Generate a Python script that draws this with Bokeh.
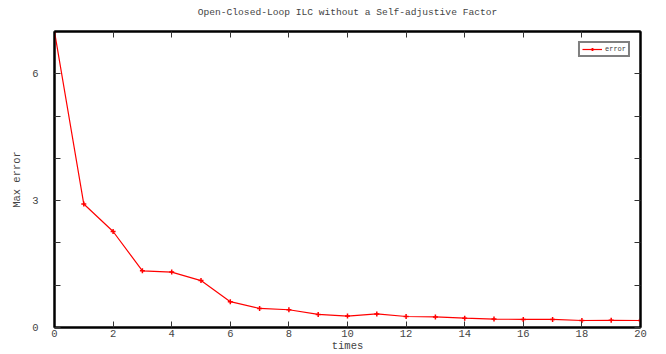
from bokeh.plotting import figure
from bokeh.models import Range1d, LinearAxis, FixedTicker, Legend, LegendItem
from bokeh.embed import file_html
from bokeh.resources import INLINE

times = list(range(21))
max_error = [7.0, 2.92, 2.27, 1.34, 1.31, 1.11, 0.61, 0.45, 0.42, 0.31, 0.27,
             0.32, 0.26, 0.25, 0.22, 0.20, 0.19, 0.19, 0.165, 0.17, 0.165]
x_ticks = [0, 2, 4, 6, 8, 10, 12, 14, 16, 18, 20]
y_major = [0, 3, 6]
y_minor = [1, 2, 4, 5]
title_text = "Open-Closed-Loop ILC without a Self-adjustive Factor"

FONT = "Liberation Mono"
GRAY = "#444444"
TICK = "#333333"

p = figure(width=666, height=354, output_backend="svg", toolbar_location=None,
           x_range=Range1d(0, 20), y_range=Range1d(0, 7),
           min_border_left=54, min_border_right=26, min_border_top=31, min_border_bottom=27)
p.grid.visible = False
p.outline_line_color = "black"
p.outline_line_width = 2

p.xaxis.ticker = FixedTicker(ticks=x_ticks)
p.yaxis.ticker = FixedTicker(ticks=y_major, minor_ticks=y_minor)

for ax in [p.xaxis[0], p.yaxis[0]]:
    ax.axis_line_color = "black"
    ax.axis_line_width = 2
    ax.major_tick_in = 6
    ax.major_tick_out = 0
    ax.minor_tick_in = 6
    ax.minor_tick_out = 0
    ax.minor_tick_line_color = TICK
    ax.major_tick_line_color = TICK
    ax.major_tick_line_width = 1
    ax.major_label_text_font = FONT
    ax.major_label_text_font_size = "10.5px"
    ax.major_label_text_color = GRAY
    ax.axis_label_text_font = FONT
    ax.axis_label_text_font_size = "10.5px"
    ax.axis_label_text_font_style = "normal"
    ax.axis_label_text_color = GRAY

p.xaxis.axis_label = "times"
p.xaxis.major_label_standoff = 2
p.xaxis.axis_label_standoff = 0
p.yaxis.axis_label = "Max error"
p.yaxis.major_label_standoff = 16
p.yaxis.axis_label_standoff = 6

top = LinearAxis(ticker=FixedTicker(ticks=[], minor_ticks=x_ticks),
                 minor_tick_in=6, minor_tick_out=0, minor_tick_line_color=TICK,
                 axis_line_color="black", axis_line_width=2,
                 axis_label=title_text, axis_label_standoff=14,
                 axis_label_text_font=FONT, axis_label_text_font_size="9.6px",
                 axis_label_text_font_style="normal", axis_label_text_color=GRAY)
right = LinearAxis(ticker=FixedTicker(ticks=[], minor_ticks=y_major + y_minor),
                   minor_tick_in=6, minor_tick_out=0, minor_tick_line_color=TICK,
                   axis_line_color="black", axis_line_width=2)
p.add_layout(top, "above")
p.add_layout(right, "right")

ln = p.line(times, max_error, line_color="red", line_width=1.2)
sc = p.scatter(times, max_error, marker="cross", size=5, line_color="red", line_width=1.5)

legend = Legend(items=[LegendItem(label="error", renderers=[ln, sc])],
                location="top_right", label_text_font=FONT, label_text_font_size="7px",
                label_text_color=GRAY, border_line_color="black", border_line_width=2,
                glyph_width=20, glyph_height=8, label_height=8, padding=2, spacing=0,
                margin=10, label_standoff=3, background_fill_alpha=1)
p.add_layout(legend)

open("out.html", "w").write(file_html(p, INLINE))
